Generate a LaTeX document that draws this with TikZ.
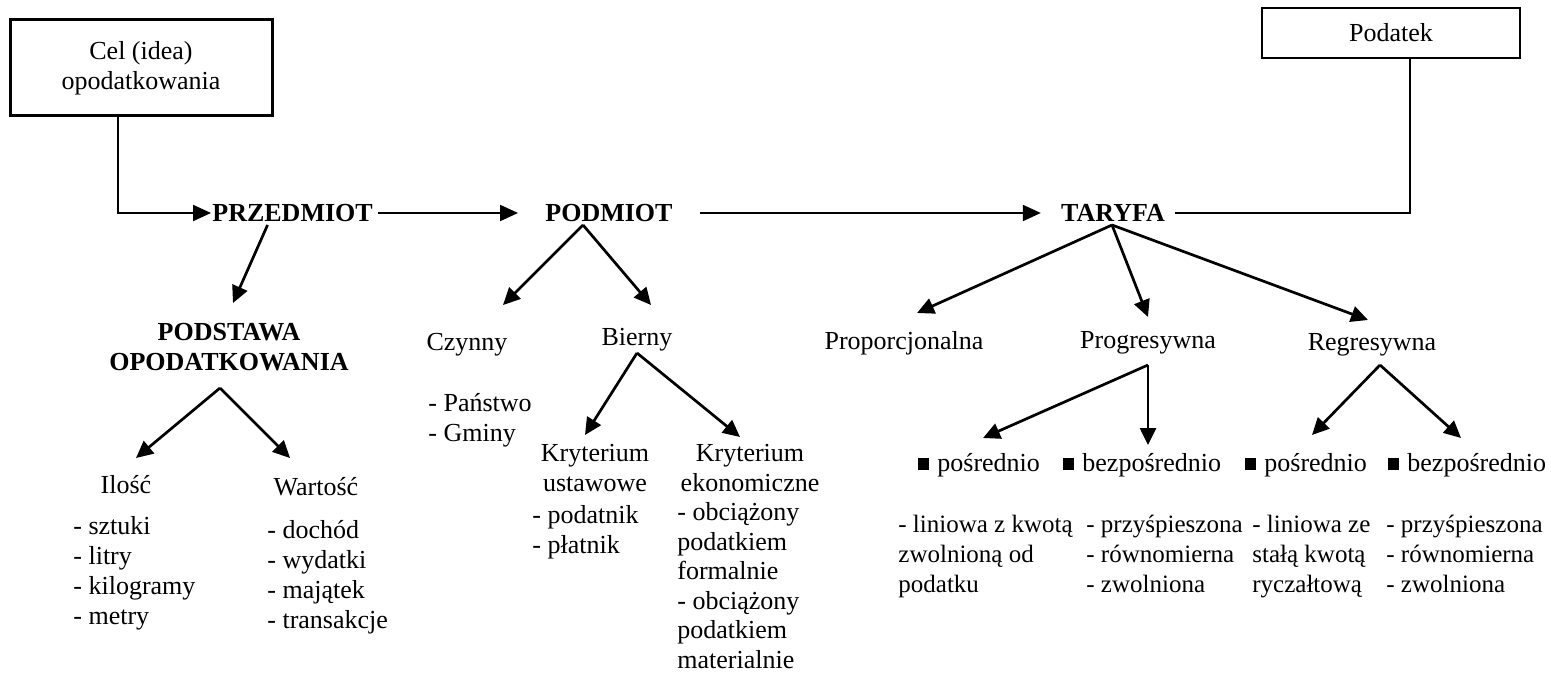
\documentclass[tikz,border=0pt]{standalone}
\usepackage{fontspec}
\setmainfont{Liberation Serif}
\usetikzlibrary{arrows.meta,calc}
\newcommand\sqmark{\rule[0.5pt]{5.5pt}{6pt}\hspace{4pt}}

\begin{document}
\begin{tikzpicture}[x=0.5pt,y=-0.5pt,
  every node/.style={inner sep=0pt, font=\fontsize{13}{15}\selectfont},
  head/.style={font=\fontsize{13}{15}\selectfont\bfseries},
  frame/.style={draw, inner sep=0pt},
  list/.style={align=left, anchor=north west},
  small list/.style={list, font=\fontsize{12.5}{15}\selectfont},
  arr/.style={line width=1.35pt, -{Triangle[length=8.5pt,width=8pt]}},
  harr/.style={line width=1pt, -{Triangle[length=9pt,width=8pt]}},
  conn/.style={line width=1pt},
]
\useasboundingbox (0,0) rectangle (1551,674);

% boxes
\node[frame, line width=1.5pt, minimum width=131pt, minimum height=48pt, align=center] (cel) at (141,68) {Cel (idea)\\opodatkowania};
\node[frame, line width=1.1pt, minimum width=129pt, minimum height=25pt] (podatek) at (1391,33) {Podatek};

% main chain
\node[head, anchor=west] (przedmiot) at (212,213) {PRZEDMIOT};
\node[head] (podmiot) at (609,213) {PODMIOT};
\node[head] (taryfa) at (1113,213) {TARYFA};

% przedmiot branch
\node[head, align=center] (podstawa) at (229,347) {PODSTAWA\\OPODATKOWANIA};
\node (ilosc) at (126,485) {Ilość};
\node (wartosc) at (316,487) {Wartość};
\node[list] (ilosc-l) at (73,516) {- sztuki\\- litry\\- kilogramy\\- metry};
\node[list] (wartosc-l) at (267,520) {- dochód\\- wydatki\\- majątek\\- transakcje};

% podmiot branch
\node (czynny) at (467,345) {Czynny};
\node (bierny) at (637,340) {Bierny};
\node[list] (czynny-l) at (428,393) {- Państwo\\- Gminy};
\node[align=center, anchor=north] (kust) at (595,444) {Kryterium\\ustawowe};
\node[list] (kust-l) at (532,505) {- podatnik\\- płatnik};
\node[align=center, anchor=north] (keko) at (750,444) {Kryterium\\ekonomiczne};
\node[list, font=\fontsize{13}{14.8}\selectfont] (keko-l) at (677,502) {- obciążony\\podatkiem\\formalnie\\- obciążony\\podatkiem\\materialnie};

% taryfa branch
\node (prop) at (904,343) {Proporcjonalna};
\node (prog) at (1148,343) {Progresywna};
\node (regr) at (1372,345) {Regresywna};
\node[anchor=west] (prog-p) at (918,465) {\sqmark pośrednio};
\node[anchor=west] (prog-b) at (1063,465) {\sqmark bezpośrednio};
\node[anchor=west] (regr-p) at (1245,465) {\sqmark pośrednio};
\node[anchor=west] (regr-b) at (1388,465) {\sqmark bezpośrednio};
\node[small list] (l1) at (898,515) {- liniowa z kwotą\\zwolnioną od\\podatku};
\node[small list] (l2) at (1086,515) {- przyśpieszona\\- równomierna\\- zwolniona};
\node[small list] (l3) at (1252,515) {- liniowa ze\\stałą kwotą\\ryczałtową};
\node[small list] (l4) at (1386,515) {- przyśpieszona\\- równomierna\\- zwolniona};

% arrow tips
\coordinate (t-pz) at (233,303);
\coordinate (t-il) at (136,458);
\coordinate (t-wa) at (290,458);
\coordinate (t-cz) at (503,305);
\coordinate (t-bi) at (651,305);
\coordinate (t-ku) at (585,435);
\coordinate (t-ke) at (740,437);
\coordinate (t-pp) at (917,313);
\coordinate (t-pg) at (1148,317);
\coordinate (t-rg) at (1368,320);
\coordinate (t-pg1) at (983,438);
\coordinate (t-pg2) at (1148,445);
\coordinate (t-rg1) at (1312,435);
\coordinate (t-rg2) at (1461,438);

% horizontal flow
\draw[harr] ($(cel.south west)!0.413!(cel.south east)$) |- ([xshift=-0.5pt]przedmiot.west);
\draw[harr] ([xshift=2.5pt]przedmiot.east) -- ([xshift=-13.5pt]podmiot.west);
\draw[harr] ([xshift=13.5pt]podmiot.east) -- ([xshift=-10pt]taryfa.west);
\draw[conn] ([xshift=5pt]taryfa.east) -| ($(podatek.south west)!0.574!(podatek.south east)$);

% branches
\draw[arr] ([shift={(-25,12)}]przedmiot.center) -- (t-pz);
\draw[arr] ([shift={(-9,41)}]podstawa.center) -- (t-il);
\draw[arr] ([shift={(-9,41)}]podstawa.center) -- (t-wa);
\draw[arr] ([shift={(-26,12)}]podmiot.center) -- (t-cz);
\draw[arr] ([shift={(-26,12)}]podmiot.center) -- (t-bi);
\draw[arr] ([shift={(0,13)}]bierny.center) -- (t-ku);
\draw[arr] ([shift={(0,13)}]bierny.center) -- (t-ke);
\draw[arr] ([shift={(-1,12)}]taryfa.center) -- (t-pp);
\draw[arr] ([shift={(-1,12)}]taryfa.center) -- (t-pg);
\draw[arr] ([shift={(-1,12)}]taryfa.center) -- (t-rg);
\draw[arr] ([shift={(0,22)}]prog.center) -- (t-pg1);
\draw[arr] ([shift={(0,22)}]prog.center) -- (t-pg2);
\draw[arr] ([shift={(8,20)}]regr.center) -- (t-rg1);
\draw[arr] ([shift={(8,20)}]regr.center) -- (t-rg2);
\end{tikzpicture}
\end{document}
